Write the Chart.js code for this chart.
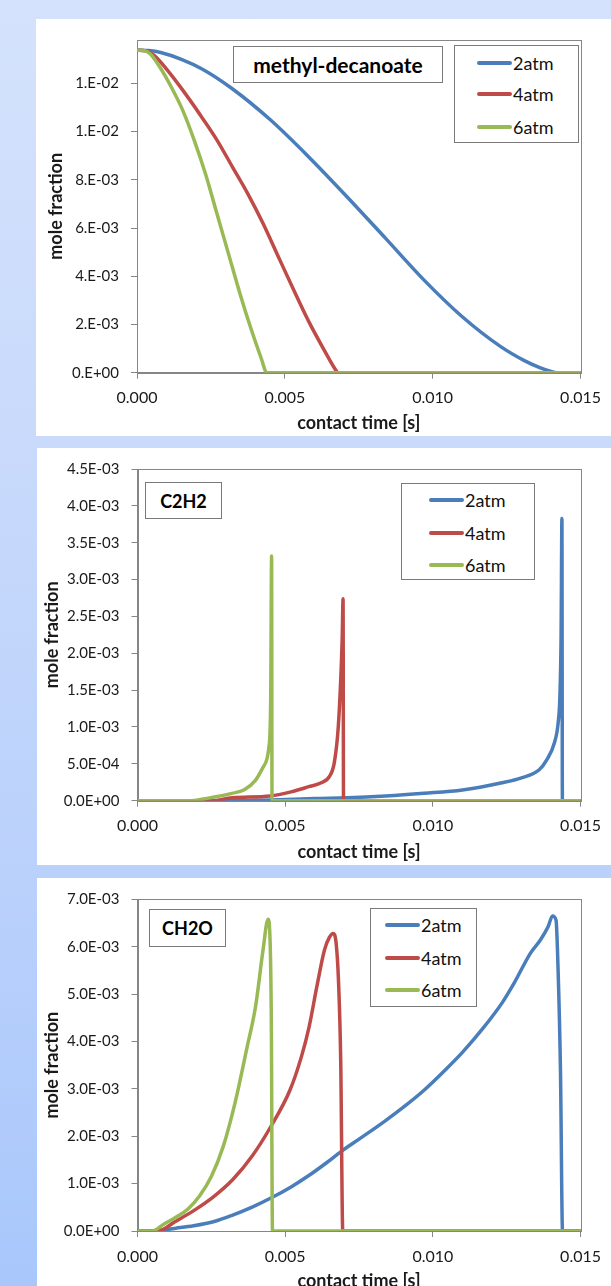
<!DOCTYPE html>
<html>
<head>
<meta charset="utf-8">
<script src="https://cdn.jsdelivr.net/npm/chart.js@4.4.1/dist/chart.umd.min.js"></script>
<style>
html,body{margin:0;padding:0;width:611px;height:1286px;overflow:hidden;}
body{position:relative;background:linear-gradient(to bottom,#d4e2fc 0px,#c9dafb 440px,#bad1fb 870px,#a9c7fb 1286px);font-family:Lato,"Open Sans",sans-serif;}
.panel{position:absolute;background:#fff;overflow:hidden;}
.panel canvas{position:absolute;left:0;top:0;}
.box{position:absolute;border:1px solid #7a7a7a;background:#fff;box-sizing:border-box;color:#000;}
.tbox{display:flex;align-items:center;justify-content:center;font-weight:bold;}
.lg-row{position:absolute;height:22px;display:flex;align-items:center;font-size:18px;color:#111;}
.lg-line{width:35px;height:4px;border-radius:2px;margin-right:1px;}
</style>
</head>
<body>
<div class="panel" id="p1" style="left:36px;top:19px;width:575px;height:417px;"><canvas id="c1" width="575" height="417"></canvas></div>
<div class="panel" id="p2" style="left:37px;top:448px;width:574px;height:417px;"><canvas id="c2" width="574" height="417"></canvas></div>
<div class="panel" id="p3" style="left:37px;top:878px;width:574px;height:417px;"><canvas id="c3" width="574" height="417"></canvas></div>

<div class="box tbox" style="left:233px;top:46px;width:210px;height:37px;font-size:21px;">methyl-decanoate</div>
<div class="box tbox" style="left:145px;top:482px;width:77px;height:37px;font-size:18px;">C2H2</div>
<div class="box tbox" style="left:149px;top:909px;width:77px;height:38px;font-size:18px;">CH2O</div>

<div class="box" id="lg1" style="left:454px;top:45px;width:125px;height:98px;"></div>
<div class="box" id="lg2" style="left:401px;top:483px;width:134px;height:97px;"></div>
<div class="box" id="lg3" style="left:370px;top:908px;width:107px;height:99px;"></div>

<script>
// ---------- series names & colours ----------
const seriesNames = ['2atm', '4atm', '6atm'];
const seriesColors = ['#4a7ebb', '#be4b48', '#98b954'];

// ---------- x axis ----------
const xTicks = [0, 0.005, 0.010, 0.015];
const xTickLabels = ['0.000', '0.005', '0.010', '0.015'];

// ---------- panel 1: methyl-decanoate ----------
const mdTicks = [0, 0.002, 0.004, 0.006, 0.008, 0.010, 0.012];
const mdTickLabels = ['0.E+00', '2.E-03', '4.E-03', '6.E-03', '8.E-03', '1.E-02', '1.E-02'];
const md2Time = [0, 0.0004, 0.0008, 0.0015, 0.0022, 0.0032, 0.0045, 0.0058, 0.0071, 0.0084, 0.0097, 0.0110, 0.0123, 0.0131, 0.0136, 0.0140, 0.0142, 0.0150];
const md2Val  = [0.01338, 0.01336, 0.01328, 0.0130, 0.0126, 0.0118, 0.0105, 0.00896, 0.0073, 0.00558, 0.00385, 0.00232, 0.00108, 0.0005, 0.00022, 0.00005, 0, 0];
const md4Time = [0, 0.0003, 0.00056, 0.00102, 0.00154, 0.00218, 0.0027, 0.00322, 0.00374, 0.00426, 0.00478, 0.0053, 0.00581, 0.00633, 0.00672, 0.0068, 0.0150];
const md4Val  = [0.01338, 0.01335, 0.01318, 0.01256, 0.01173, 0.01062, 0.00966, 0.00855, 0.00744, 0.0062, 0.00481, 0.00343, 0.00212, 0.00094, 0.00011, 0, 0];
const md6Time = [0, 0.00025, 0.00045, 0.00076, 0.00115, 0.00154, 0.00193, 0.00231, 0.0027, 0.00309, 0.00348, 0.00387, 0.0042, 0.00439, 0.0150];
const md6Val  = [0.01338, 0.01336, 0.01322, 0.0127, 0.01187, 0.0109, 0.00966, 0.00827, 0.00661, 0.00495, 0.00329, 0.00177, 0.0006, 0, 0];

// ---------- panel 2: C2H2 ----------
const c2Ticks = [0, 0.0005, 0.0010, 0.0015, 0.0020, 0.0025, 0.0030, 0.0035, 0.0040, 0.0045];
const c2TickLabels = ['0.0E+00', '5.0E-04', '1.0E-03', '1.5E-03', '2.0E-03', '2.5E-03', '3.0E-03', '3.5E-03', '4.0E-03', '4.5E-03'];
const c22Time = [0, 0.003, 0.0045, 0.006, 0.0071, 0.0084, 0.0097, 0.0110, 0.0123, 0.0130, 0.0136, 0.01385, 0.01411, 0.01424, 0.0143, 0.01434, 0.01437, 0.014385, 0.0150];
const c22Val  = [0, 0, 0.00001, 0.00003, 0.00004, 0.000064, 0.0001, 0.000145, 0.00024, 0.00031, 0.00042, 0.00055, 0.00078, 0.00105, 0.00141, 0.0022, 0.00383, 0, 0];
const c24Time = [0, 0.0025, 0.0032, 0.0045, 0.0052, 0.0058, 0.0062, 0.0065, 0.00666, 0.00679, 0.00688, 0.00693, 0.00696, 0.006975, 0.0150];
const c24Val  = [0, 0, 0.00004, 0.000064, 0.00012, 0.00019, 0.00024, 0.00033, 0.00051, 0.00096, 0.00164, 0.0022, 0.00274, 0, 0];
const c26Time = [0, 0.0017, 0.0026, 0.0032, 0.0036, 0.0040, 0.00426, 0.00445, 0.00451, 0.00454, 0.004555, 0.0150];
const c26Val  = [0, 0, 0.00005, 0.0001, 0.000145, 0.00028, 0.00046, 0.00073, 0.0014, 0.00332, 0, 0];

// ---------- panel 3: CH2O ----------
const chTicks = [0, 0.001, 0.002, 0.003, 0.004, 0.005, 0.006, 0.007];
const chTickLabels = ['0.0E+00', '1.0E-03', '2.0E-03', '3.0E-03', '4.0E-03', '5.0E-03', '6.0E-03', '7.0E-03'];
const ch2Time = [0, 0.0005, 0.0013, 0.0019, 0.0026, 0.0032, 0.0039, 0.0045, 0.0052, 0.0058, 0.0064, 0.0069, 0.0076, 0.0084, 0.0091, 0.0097, 0.01047, 0.0110, 0.0117, 0.01235, 0.01275, 0.0133, 0.01364, 0.0139, 0.01405, 0.01417, 0.01424, 0.01432, 0.01439, 0.0150];
const ch2Val  = [0, 0, 0.00006, 0.00011, 0.0002, 0.00033, 0.00051, 0.00069, 0.00093, 0.00117, 0.00144, 0.00168, 0.00198, 0.00233, 0.00266, 0.00297, 0.00343, 0.00377, 0.00428, 0.00482, 0.00523, 0.00586, 0.00614, 0.00642, 0.00665, 0.00656, 0.0055, 0.0034, 0, 0];
const ch4Time = [0, 0.0007, 0.00128, 0.00193, 0.00257, 0.00322, 0.00387, 0.00451, 0.00516, 0.00555, 0.00581, 0.00607, 0.00633, 0.0065, 0.00662, 0.00672, 0.00681, 0.00688, 0.00695, 0.0150];
const ch4Val  = [0, 0, 0.0002, 0.00044, 0.00072, 0.00108, 0.00157, 0.0022, 0.00297, 0.00368, 0.00431, 0.00515, 0.00593, 0.0062, 0.00628, 0.0061, 0.0052, 0.0036, 0, 0];
const ch6Time = [0, 0.0005, 0.0009, 0.0013, 0.0017, 0.0021, 0.0025, 0.0029, 0.0033, 0.0037, 0.0040, 0.00425, 0.00442, 0.00449, 0.00453, 0.00457, 0.0150];
const ch6Val  = [0, 0, 0.00015, 0.00029, 0.00046, 0.00074, 0.00115, 0.00178, 0.0027, 0.00385, 0.00475, 0.00593, 0.00658, 0.0061, 0.0045, 0, 0];

// ---------- helpers ----------
const FONT = 'Lato, "Open Sans", sans-serif';
const TEXT = '#1a1a1a';
const AXIS = '#868686';

function pts(t, v) { return t.map((x, i) => ({ x: x, y: v[i] })); }

function datasets(list) {
  return list.map((d, i) => ({
    label: seriesNames[i],
    data: pts(d[0], d[1]),
    showLine: true,
    borderColor: seriesColors[i],
    backgroundColor: seriesColors[i],
    borderWidth: 3.5,
    borderCapStyle: 'round',
    borderJoinStyle: 'round',
    pointRadius: 0,
    cubicInterpolationMode: 'monotone',
    order: 2 - i
  }));
}

const frame = {
  id: 'frame',
  beforeDatasetsDraw(chart) {
    const a = chart.chartArea, ctx = chart.ctx;
    ctx.save();
    ctx.strokeStyle = AXIS;
    ctx.lineWidth = 1;
    ctx.strokeRect(Math.round(a.left) + 0.5, Math.round(a.top) + 0.5, Math.round(a.right - a.left), Math.round(a.bottom - a.top));
    ctx.restore();
  }
};

function makeChart(id, dsList, yMax, yTicks, yLabels, cfg) {
  return new Chart(document.getElementById(id), {
    type: 'scatter',
    data: { datasets: datasets(dsList) },
    plugins: [frame],
    options: {
      responsive: false,
      animation: false,
      layout: { padding: { left: 0, top: cfg.top, right: cfg.right, bottom: 0 } },
      plugins: { legend: { display: false }, tooltip: { enabled: false } },
      scales: {
        x: {
          type: 'linear', min: 0, max: 0.015,
          afterBuildTicks: s => { s.ticks = xTicks.map(v => ({ value: v })); },
          afterFit: s => { s.height = cfg.xH; },
          ticks: { callback: (v, i) => xTickLabels[i], font: { family: FONT, size: 16 }, color: TEXT, padding: 10, maxRotation: 0, autoSkip: false },
          grid: { drawOnChartArea: false, tickLength: 6, color: AXIS },
          border: { color: AXIS },
          title: { display: true, text: 'contact time [s]', color: TEXT, font: { family: FONT, size: 18, weight: 'bold' }, padding: { top: 0, bottom: cfg.xTitlePad } }
        },
        y: {
          type: 'linear', min: 0, max: yMax,
          afterBuildTicks: s => { s.ticks = yTicks.map(v => ({ value: v })); },
          afterFit: s => { s.width = cfg.yW; },
          ticks: { callback: (v, i) => yLabels[i], font: { family: FONT, size: 15 }, color: TEXT, padding: 12, autoSkip: false },
          grid: { drawOnChartArea: false, tickLength: 6, color: AXIS },
          border: { color: AXIS },
          title: { display: true, text: 'mole fraction', color: TEXT, font: { family: FONT, size: 18, weight: 'bold' }, padding: { top: cfg.yTitlePad, bottom: 0 } }
        }
      }
    }
  });
}

function buildLegend(id, rows, lineLeft) {
  const box = document.getElementById(id);
  seriesNames.forEach((n, i) => {
    const r = document.createElement('div');
    r.className = 'lg-row';
    r.style.left = lineLeft + 'px';
    r.style.top = (rows[i] - 11) + 'px';
    const l = document.createElement('div');
    l.className = 'lg-line';
    l.style.background = seriesColors[i];
    const t = document.createElement('span');
    t.textContent = n;
    r.appendChild(l); r.appendChild(t);
    box.appendChild(r);
  });
}

makeChart('c1', [[md2Time, md2Val], [md4Time, md4Val], [md6Time, md6Val]], 0.0138, mdTicks, mdTickLabels,
  { top: 21, right: 23, xH: 63.3, yW: 101, xTitlePad: 2.5, yTitlePad: 9.7 });
makeChart('c2', [[c22Time, c22Val], [c24Time, c24Val], [c26Time, c26Val]], 0.0045, c2Ticks, c2TickLabels,
  { top: 21, right: 23, xH: 64.3, yW: 100.5, xTitlePad: 2.5, yTitlePad: 4.8 });
makeChart('c3', [[ch2Time, ch2Val], [ch4Time, ch4Val], [ch6Time, ch6Val]], 0.007, chTicks, chTickLabels,
  { top: 21.3, right: 23.3, xH: 64, yW: 100.5, xTitlePad: 3.5, yTitlePad: 4.8 });

buildLegend('lg1', [17, 48, 81], 22);
buildLegend('lg2', [16, 48.7, 81.3], 27);
buildLegend('lg3', [16, 49.4, 80.7], 14);
</script>
</body>
</html>
